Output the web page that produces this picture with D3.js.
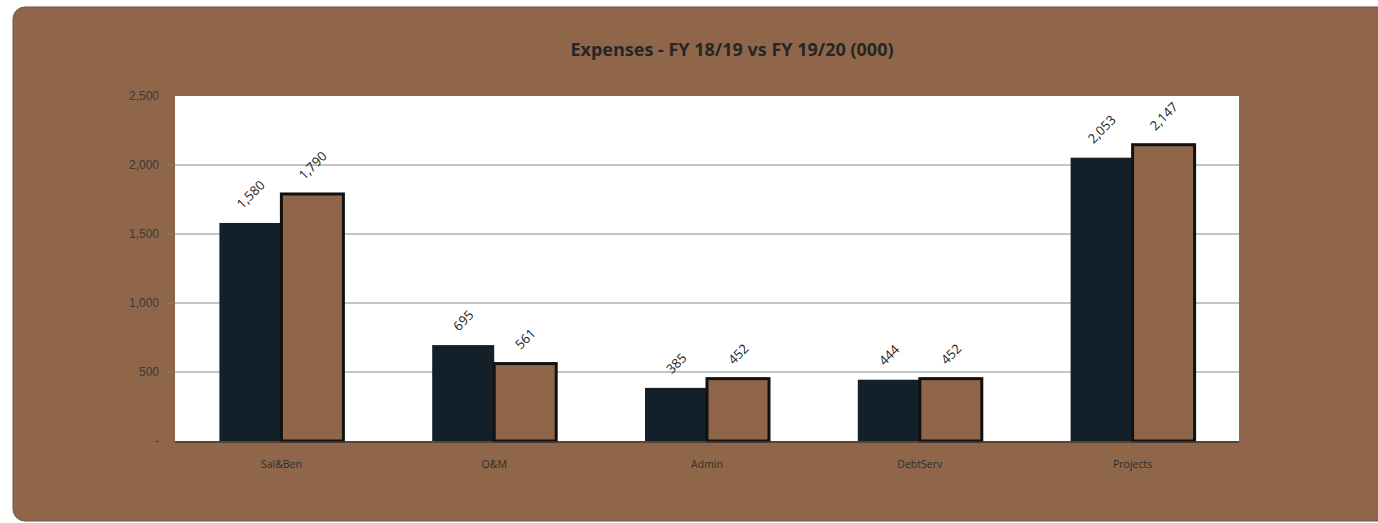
<!DOCTYPE html>
<html>
<head>
<meta charset="utf-8">
<script src="https://cdn.jsdelivr.net/npm/d3@7"></script>
<style>
  body { margin: 0; background: #fff; }
  svg { display: block; font-family: "Open Sans", "Noto Sans", sans-serif; }
</style>
</head>
<body>
<div id="chart"></div>
<script>
const width = 1378,
      height = 523;

const categories = ['Sal&Ben', 'O&M', 'Admin', 'DebtServ', 'Projects'];
const series = ['FY 18/19', 'FY 19/20'];
const fy1819 = [1580, 695, 385, 444, 2053];
const fy1920 = [1790, 561, 452, 452, 2147];
const yTicks = [0, 500, 1000, 1500, 2000, 2500];

const colors = { 'FY 18/19': '#13202a', 'FY 19/20': '#8f6649' };

const plot = { left: 175, right: 1239, top: 96, bottom: 441 };

const svg = d3.select('#chart').append('svg')
  .attr('width', width)
  .attr('height', height);

// brown card
svg.append('rect')
  .attr('x', 13).attr('y', 7)
  .attr('width', width + 20).attr('height', 514)
  .attr('rx', 12)
  .attr('fill', '#8f6649')
  .attr('stroke', '#6f5442')
  .attr('stroke-width', 1);

// plot area
svg.append('rect')
  .attr('x', plot.left).attr('y', plot.top)
  .attr('width', plot.right - plot.left).attr('height', plot.bottom - plot.top)
  .attr('fill', '#fff');

const x = d3.scaleBand().domain(categories).range([plot.left, plot.right]);
const xs = d3.scaleBand().domain(series).range([-62, 62]);
const y = d3.scaleLinear().domain([0, 2500]).range([plot.bottom, plot.top]);

// gridlines
svg.append('g')
  .selectAll('line')
  .data(yTicks.filter(d => d > 0 && d < 2500))
  .join('line')
  .attr('x1', plot.left - 7).attr('x2', plot.right)
  .attr('y1', d => y(d)).attr('y2', d => y(d))
  .attr('stroke', '#8a8a8a')
  .attr('stroke-width', 1.2);

// y axis
const yAxis = svg.append('g')
  .attr('transform', `translate(${plot.left - 2},0)`)
  .call(d3.axisLeft(y).tickValues(yTicks).tickSize(0).tickPadding(14)
    .tickFormat(d => d === 0 ? '-' : d3.format(',')(d)));
yAxis.select('.domain').attr('stroke', '#7a6656');
yAxis.selectAll('text').attr('font-size', 12).attr('fill', '#3a3a3a');

// bars
const rows = categories.map((c, i) => ({ cat: c, values: [
  { s: series[0], v: fy1819[i] },
  { s: series[1], v: fy1920[i] }
]}));

const groups = svg.append('g')
  .selectAll('g')
  .data(rows)
  .join('g')
  .attr('transform', d => `translate(${x(d.cat) + x.bandwidth() / 2},0)`);

groups.selectAll('rect')
  .data(d => d.values)
  .join('rect')
  .attr('x', d => xs(d.s))
  .attr('y', d => y(d.v))
  .attr('width', xs.bandwidth())
  .attr('height', d => y(0) - y(d.v))
  .attr('fill', d => colors[d.s])
  .attr('stroke', d => d.s === series[1] ? '#111' : 'none')
  .attr('stroke-width', 3);

// value labels, rotated
groups.selectAll('text')
  .data(d => d.values)
  .join('text')
  .text(d => d3.format(',')(d.v))
  .attr('font-size', 13)
  .attr('fill', '#222')
  .attr('text-anchor', 'middle')
  .attr('dominant-baseline', 'central')
  .attr('transform', function(d) {
    const half = this.getComputedTextLength() / 2 * 0.707;
    const cx = xs(d.s) + xs.bandwidth() / 2;
    return `translate(${cx},${y(d.v) - half - 17}) rotate(-45)`;
  });

// bottom axis line
svg.append('line')
  .attr('x1', plot.left).attr('x2', plot.right)
  .attr('y1', plot.bottom + 1).attr('y2', plot.bottom + 1)
  .attr('stroke', '#4a3a30').attr('stroke-width', 1.5);

// category labels
svg.append('g')
  .selectAll('text')
  .data(categories)
  .join('text')
  .attr('x', d => x(d) + x.bandwidth() / 2)
  .attr('y', 468)
  .attr('text-anchor', 'middle')
  .attr('font-size', 10.5)
  .attr('fill', '#2e2e2e')
  .text(d => d);

// title
svg.append('text')
  .attr('x', 732).attr('y', 56)
  .attr('text-anchor', 'middle')
  .attr('font-size', 18)
  .attr('font-weight', 'bold')
  .attr('fill', '#262626')
  .text('Expenses - FY 18/19 vs FY 19/20 (000)');
</script>
</body>
</html>
